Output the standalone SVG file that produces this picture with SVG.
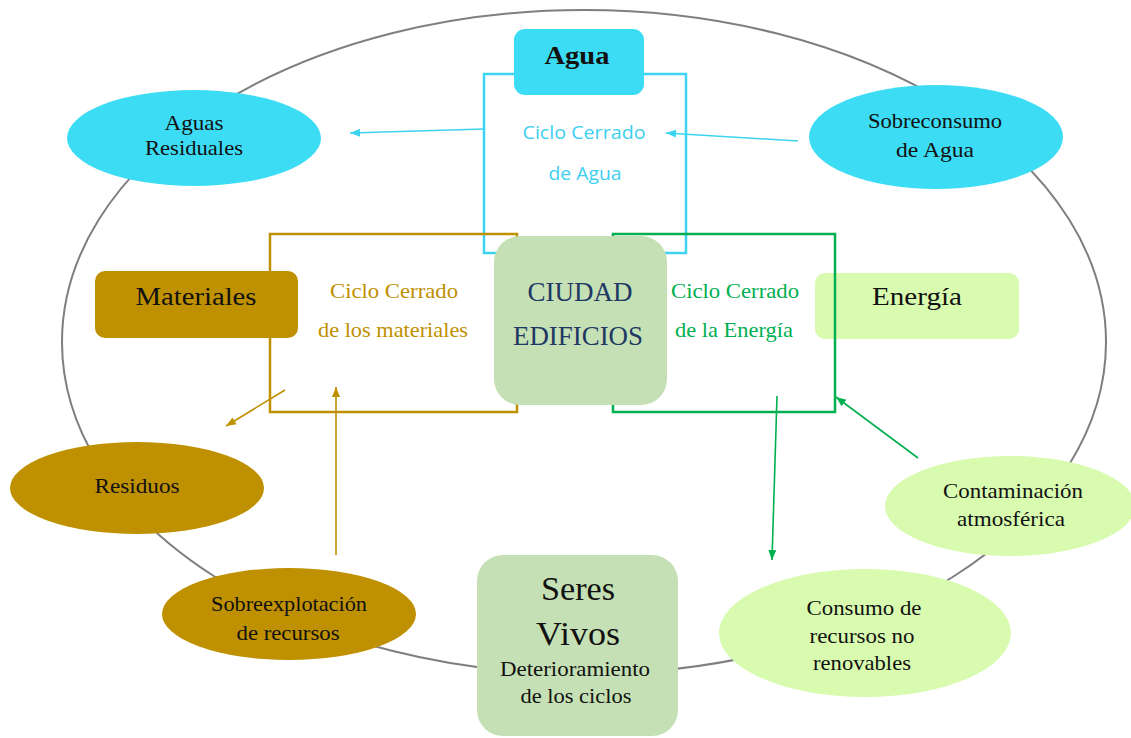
<svg xmlns="http://www.w3.org/2000/svg" width="1131" height="738" viewBox="0 0 1131 738">
<style>
.serif{font-family:"Liberation Serif","Times New Roman",serif;fill:#111;text-anchor:middle}
.sans{font-family:"Open Sans","Liberation Sans",sans-serif;text-anchor:middle}
.cyanf{fill:#3CDCF4}
.goldf{fill:#BF9000}
.lgf{fill:#D8FBB0}
.gbf{fill:#C5E0B4}
.frame{fill:none;stroke-width:2.5}
.conn{fill:none;stroke-width:1.6}
</style>
<defs>
<marker id="aC" markerUnits="userSpaceOnUse" markerWidth="12" markerHeight="10" refX="10" refY="5" orient="auto"><path d="M0,1 L10,5 L0,9 Z" fill="#3CD4F0"/></marker>
<marker id="aG" markerUnits="userSpaceOnUse" markerWidth="12" markerHeight="10" refX="10" refY="5" orient="auto"><path d="M0,1 L10,5 L0,9 Z" fill="#BF9000"/></marker>
<marker id="aE" markerUnits="userSpaceOnUse" markerWidth="12" markerHeight="10" refX="10" refY="5" orient="auto"><path d="M0,1 L10,5 L0,9 Z" fill="#00B050"/></marker>
</defs>
<rect width="1131" height="738" fill="#fff"/>
<g id="outer-cycle"><ellipse cx="584" cy="342" rx="522" ry="332" fill="none" stroke="#7f7f7f" stroke-width="2"/></g>

<g id="water-cycle">
<rect x="484" y="74" width="202" height="179" class="frame" stroke="#3CD4F0"/>
<text class="sans" font-size="19" fill="#3DCFF0" x="584" y="139" textLength="123" lengthAdjust="spacingAndGlyphs">Ciclo Cerrado</text>
<text class="sans" font-size="19" fill="#3DCFF0" x="585" y="180" textLength="73" lengthAdjust="spacingAndGlyphs">de Agua</text>
</g>
<g id="materials-cycle">
<rect x="270" y="234" width="247" height="178" class="frame" stroke="#BF9000"/>
<text class="serif" font-size="22" style="fill:#BF9000" x="394" y="298" textLength="128" lengthAdjust="spacingAndGlyphs">Ciclo Cerrado</text>
<text class="serif" font-size="22" style="fill:#BF9000" x="393" y="337" textLength="150" lengthAdjust="spacingAndGlyphs">de los materiales</text>
</g>
<g id="energia"><rect x="815" y="273" width="204" height="66" rx="10" class="lgf"/>
<text class="serif" font-size="25" x="917" y="305" textLength="90" lengthAdjust="spacingAndGlyphs">Energía</text></g>
<g id="energy-cycle">
<rect x="613" y="234" width="222" height="178" class="frame" stroke="#00B050"/>
<text class="serif" font-size="22" style="fill:#00B050" x="735" y="298" textLength="128" lengthAdjust="spacingAndGlyphs">Ciclo Cerrado</text>
<text class="serif" font-size="22" style="fill:#00B050" x="734" y="337" textLength="118" lengthAdjust="spacingAndGlyphs">de la Energía</text>
</g>

<g id="agua"><rect x="514" y="29" width="130" height="66" rx="11" class="cyanf"/>
<text class="serif" font-size="26" font-weight="bold" x="577" y="64" textLength="65" lengthAdjust="spacingAndGlyphs">Agua</text></g>
<g id="ciudad"><rect x="494" y="236" width="173" height="169" rx="26" class="gbf"/>
<text class="serif" font-size="27" style="fill:#1F3864" x="580" y="301" textLength="105" lengthAdjust="spacingAndGlyphs">CIUDAD</text>
<text class="serif" font-size="27" style="fill:#1F3864" x="578" y="345" textLength="130" lengthAdjust="spacingAndGlyphs">EDIFICIOS</text></g>
<g id="materiales"><rect x="95" y="271" width="203" height="67" rx="10" class="goldf"/>
<text class="serif" font-size="26" x="196" y="305" textLength="121" lengthAdjust="spacingAndGlyphs">Materiales</text></g>

<g id="aguas-residuales"><ellipse cx="194" cy="138" rx="127" ry="48" class="cyanf"/>
<text class="serif" font-size="22" x="194" y="130" textLength="59" lengthAdjust="spacingAndGlyphs">Aguas</text>
<text class="serif" font-size="22" x="194" y="155" textLength="98" lengthAdjust="spacingAndGlyphs">Residuales</text></g>
<g id="sobreconsumo"><ellipse cx="936" cy="137" rx="127" ry="52" class="cyanf"/>
<text class="serif" font-size="22" x="935" y="128" textLength="134" lengthAdjust="spacingAndGlyphs">Sobreconsumo</text>
<text class="serif" font-size="22" x="935" y="157" textLength="78" lengthAdjust="spacingAndGlyphs">de Agua</text></g>
<g id="residuos"><ellipse cx="137" cy="488" rx="127" ry="46" class="goldf"/>
<text class="serif" font-size="22" x="137" y="493" textLength="85" lengthAdjust="spacingAndGlyphs">Residuos</text></g>
<g id="sobreexplotacion"><ellipse cx="289" cy="614" rx="127" ry="46" class="goldf"/>
<text class="serif" font-size="22" x="289" y="611" textLength="156" lengthAdjust="spacingAndGlyphs">Sobreexplotación</text>
<text class="serif" font-size="22" x="288" y="640" textLength="103" lengthAdjust="spacingAndGlyphs">de recursos</text></g>
<g id="seres-vivos"><rect x="477" y="555" width="201" height="181" rx="26" class="gbf"/>
<text class="serif" font-size="34" x="578" y="600" textLength="74" lengthAdjust="spacingAndGlyphs">Seres</text>
<text class="serif" font-size="34" x="578" y="645" textLength="84" lengthAdjust="spacingAndGlyphs">Vivos</text>
<text class="serif" font-size="22" x="575" y="676" textLength="150" lengthAdjust="spacingAndGlyphs">Deterioramiento</text>
<text class="serif" font-size="22" x="576" y="703" textLength="111" lengthAdjust="spacingAndGlyphs">de los ciclos</text></g>
<g id="contaminacion"><ellipse cx="1010" cy="506" rx="125" ry="50" class="lgf"/>
<text class="serif" font-size="22" x="1013" y="498" textLength="140" lengthAdjust="spacingAndGlyphs">Contaminación</text>
<text class="serif" font-size="22" x="1011" y="526" textLength="108" lengthAdjust="spacingAndGlyphs">atmosférica</text></g>
<g id="consumo"><ellipse cx="865" cy="633" rx="146" ry="64" class="lgf"/>
<text class="serif" font-size="22" x="864" y="615" textLength="115" lengthAdjust="spacingAndGlyphs">Consumo de</text>
<text class="serif" font-size="22" x="862" y="643" textLength="105" lengthAdjust="spacingAndGlyphs">recursos no</text>
<text class="serif" font-size="22" x="862" y="670" textLength="98" lengthAdjust="spacingAndGlyphs">renovables</text></g>

<g id="connectors">
<line x1="484" y1="129" x2="350" y2="133" class="conn" stroke="#3CD4F0" marker-end="url(#aC)"/>
<line x1="798" y1="141" x2="666" y2="133" class="conn" stroke="#3CD4F0" marker-end="url(#aC)"/>
<line x1="285" y1="390" x2="226" y2="426" class="conn" stroke="#BF9000" marker-end="url(#aG)"/>
<line x1="336" y1="555" x2="336" y2="387" class="conn" stroke="#BF9000" marker-end="url(#aG)"/>
<line x1="777" y1="396" x2="772" y2="560" class="conn" stroke="#00B050" marker-end="url(#aE)"/>
<line x1="918" y1="458" x2="836" y2="397" class="conn" stroke="#00B050" marker-end="url(#aE)"/>
</g>
</svg>
